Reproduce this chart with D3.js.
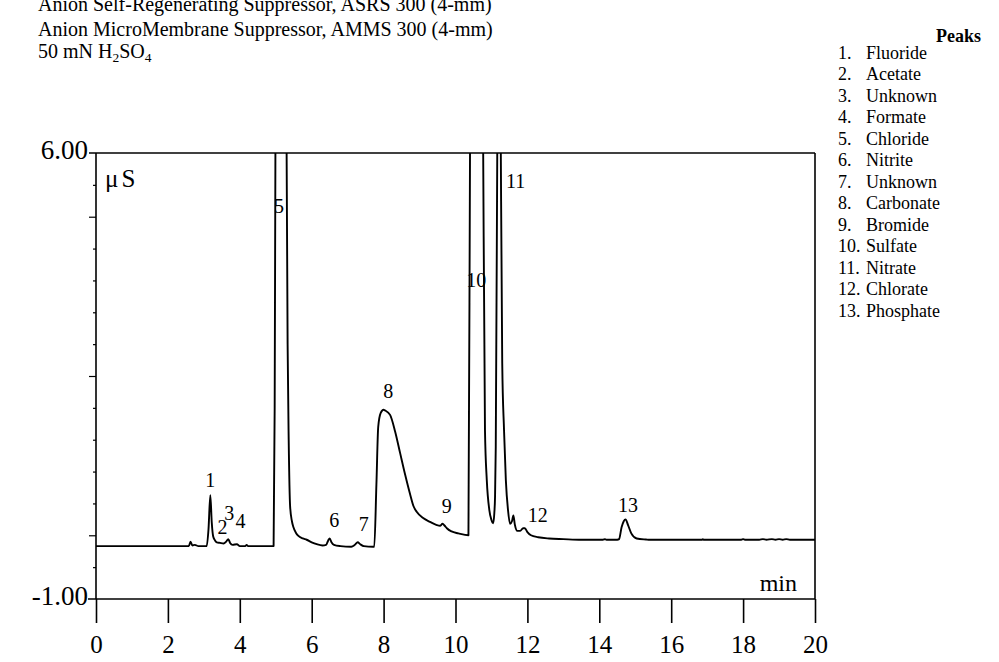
<!DOCTYPE html>
<html>
<head>
<meta charset="utf-8">
<script src="https://cdn.jsdelivr.net/npm/d3@7"></script>
<style>
  body { margin: 0; background: #fff; }
  svg { display: block; }
  text { font-family: "Liberation Serif", "Times New Roman", Times, serif; fill: #000; }
</style>
</head>
<body>
<svg id="chart" width="999" height="662"></svg>
<script>
// Conductivity trace: retention time (min) and signal (µS)
const retentionTime = [
  0.00, 2.50, 2.58, 2.63, 2.68, 2.75, 2.85, 3.08, 3.13, 3.18, 3.22, 3.26, 3.31, 3.36, 3.45, 3.55,
  3.62, 3.68, 3.73, 3.80, 3.92, 4.00, 4.15, 4.19, 4.23, 4.94, 4.97, 5.00, 5.12, 5.29, 5.33, 5.36,
  5.40, 5.45, 5.49, 5.56, 5.63, 5.75, 5.86, 6.00, 6.14, 6.30, 6.40, 6.46, 6.50, 6.55, 6.62, 6.80,
  7.10, 7.20, 7.28, 7.35, 7.45, 7.70, 7.74, 7.80, 7.85, 7.92, 8.00, 8.04, 8.18, 8.32, 8.46, 8.60,
  8.73, 8.83, 8.92, 9.10, 9.29, 9.48, 9.57, 9.64, 9.70, 9.76, 9.89, 10.08, 10.36, 10.41, 10.58, 10.76,
  10.82, 10.87, 10.94, 11.00, 11.05, 11.08, 11.10, 11.12, 11.17, 11.21, 11.25, 11.30, 11.35, 11.40, 11.46, 11.52,
  11.57, 11.61, 11.65, 11.72, 11.80, 11.88, 11.93, 12.00, 12.10, 12.30, 12.60, 13.00, 13.50, 14.10, 14.16, 14.20,
  14.50, 14.55, 14.62, 14.68, 14.73, 14.80, 14.89, 15.04, 15.30, 15.40, 16.85, 16.88, 16.91, 17.95, 18.00, 18.05,
  18.45, 18.55, 18.65, 18.80, 18.90, 19.00, 19.10, 19.20, 19.30, 20.00
];
const signal = [
  -0.17, -0.17, -0.17, -0.10, -0.16, -0.15, -0.17, -0.17, 0.10, 0.63, 0.20, -0.02, -0.08, -0.11, -0.12, -0.13,
  -0.10, -0.06, -0.12, -0.15, -0.14, -0.17, -0.17, -0.15, -0.17, -0.17, 2.00, 8.00, 30.0, 7.50, 3.00, 1.50,
  0.45, 0.22, 0.13, 0.04, -0.01, -0.05, -0.07, -0.11, -0.14, -0.16, -0.15, -0.08, -0.05, -0.11, -0.15, -0.17,
  -0.18, -0.15, -0.11, -0.14, -0.17, -0.18, -0.18, 0.80, 1.70, 1.92, 1.97, 1.96, 1.89, 1.63, 1.29, 0.95,
  0.66, 0.46, 0.37, 0.27, 0.21, 0.16, 0.15, 0.18, 0.15, 0.11, 0.06, 0.03, 0.00, 7.00, 14.0, 7.00,
  1.65, 0.87, 0.40, 0.24, 0.19, 0.35, 0.61, 1.39, 7.00, 10.0, 7.00, 2.70, 1.65, 0.87, 0.40, 0.18,
  0.22, 0.31, 0.17, 0.07, 0.07, 0.11, 0.11, 0.05, 0.00, -0.03, -0.05, -0.06, -0.07, -0.07, -0.06, -0.07,
  -0.07, -0.06, 0.125, 0.22, 0.25, 0.16, 0.03, -0.05, -0.066, -0.07, -0.07, -0.06, -0.07, -0.07, -0.06, -0.07,
  -0.07, -0.06, -0.07, -0.06, -0.07, -0.06, -0.07, -0.06, -0.07, -0.07
];

// Peak numbering and where each number sits (min, µS)
const peakNumbers    = ["1", "2", "3", "4", "5", "6", "7", "8", "9", "10", "11", "12", "13"];
const peakLabelTime  = [3.18, 3.52, 3.71, 4.02, 5.09, 6.63, 7.45, 8.13, 9.76, 10.58, 11.67, 12.29, 14.80];
const peakLabelLevel = [0.76, 0.02, 0.24, 0.11, 5.06, 0.125, 0.07, 2.15, 0.355, 3.90, 5.45, 0.21, 0.37];
const peakNames = ["Fluoride", "Acetate", "Unknown", "Formate", "Chloride", "Nitrite", "Unknown",
                   "Carbonate", "Bromide", "Sulfate", "Nitrate", "Chlorate", "Phosphate"];

// Axis ticks
const xTickValues = [0, 2, 4, 6, 8, 10, 12, 14, 16, 18, 20];
const yMajorTicks = [5, 2.5, 0];
const yMinorTicks = [5.5, 4.5, 4, 3.5, 3, 2, 1.5, 1, 0.5, -0.5];
const yEndLabels  = ["6.00", "-1.00"];
const yEndValues  = [6, -1];

// Conditions header
const headerLines = [
  "Anion Self-Regenerating Suppressor, ASRS 300 (4-mm)",
  "Anion MicroMembrane Suppressor, AMMS 300 (4-mm)"
];

const svg = d3.select("#chart");
const plot = { left: 96, right: 815, top: 153, bottom: 599 };

const x = d3.scaleLinear().domain([0, 20]).range([plot.left, plot.right]);
const y = d3.scaleLinear().domain([-1, 6]).range([plot.bottom, plot.top]);

// Header text
const hdr = svg.append("g").attr("font-size", 20);
headerLines.forEach((t, i) => {
  hdr.append("text").attr("x", 38).attr("y", 11 + i * 25).text(t);
});
const eluent = hdr.append("text").attr("x", 38).attr("y", 58);
eluent.append("tspan").text("50 mN H");
eluent.append("tspan").attr("font-size", 13.5).attr("dy", 4).text("2");
eluent.append("tspan").attr("dy", -4).text("SO");
eluent.append("tspan").attr("font-size", 13.5).attr("dy", 4).text("4");

// Peak legend
const legend = svg.append("g").attr("font-size", 18);
legend.append("text").attr("x", 936).attr("y", 42).attr("font-weight", "bold").text("Peaks");
peakNames.forEach((name, i) => {
  const yy = 58.5 + i * 21.5;
  legend.append("text").attr("x", 838).attr("y", yy).text(peakNumbers[i] + ".");
  legend.append("text").attr("x", 866).attr("y", yy).text(name);
});

// Frame
const frame = svg.append("g").attr("stroke", "#000").attr("stroke-width", 1.6).attr("fill", "none");
frame.append("line").attr("x1", plot.left - 7).attr("x2", plot.right).attr("y1", plot.top).attr("y2", plot.top);
frame.append("line").attr("x1", plot.right).attr("x2", plot.right).attr("y1", plot.top).attr("y2", plot.bottom);
frame.append("line").attr("x1", plot.left).attr("x2", plot.left).attr("y1", plot.top).attr("y2", plot.bottom);

// Bottom (time) axis
const xAxis = svg.append("g")
  .attr("transform", `translate(0,${plot.bottom})`)
  .call(d3.axisBottom(x).tickValues(xTickValues).tickSize(24).tickSizeOuter(0).tickPadding(12).tickFormat(d3.format("d")));
xAxis.select(".domain").remove();
xAxis.selectAll(".tick line").attr("stroke", "#000").attr("stroke-width", 1.6);
xAxis.selectAll(".tick text").attr("font-size", 25).attr("font-family", null);
svg.append("line").attr("x1", plot.left - 8).attr("x2", plot.right)
  .attr("y1", plot.bottom).attr("y2", plot.bottom).attr("stroke", "#000").attr("stroke-width", 1.6);

// Left (signal) axis ticks
const yMajor = svg.append("g").attr("transform", `translate(${plot.left},0)`)
  .call(d3.axisLeft(y).tickValues(yMajorTicks).tickSize(7).tickFormat(""));
yMajor.select(".domain").remove();
yMajor.selectAll(".tick line").attr("stroke", "#000").attr("stroke-width", 1.2);
const yMinor = svg.append("g").attr("transform", `translate(${plot.left},0)`)
  .call(d3.axisLeft(y).tickValues(yMinorTicks).tickSize(3).tickFormat(""));
yMinor.select(".domain").remove();
yMinor.selectAll(".tick line").attr("stroke", "#000").attr("stroke-width", 1.2);

yEndLabels.forEach((t, i) => {
  svg.append("text").attr("x", 88).attr("y", y(yEndValues[i]) + 6)
    .attr("text-anchor", "end").attr("font-size", 27).text(t);
});

// Unit labels
svg.append("text").attr("x", 105).attr("y", 187).attr("font-size", 25).attr("letter-spacing", 3).text("\u03bcS");
svg.append("text").attr("x", plot.right - 18).attr("y", 591).attr("text-anchor", "end").attr("font-size", 24).text("min");

// Chromatogram trace, clipped to the plot frame
svg.append("clipPath").attr("id", "plotClip").append("rect")
  .attr("x", plot.left).attr("y", plot.top).attr("width", plot.right - plot.left).attr("height", plot.bottom - plot.top);

const points = retentionTime.map((t, i) => [t, signal[i]]);
const line = d3.line().x(d => x(d[0])).y(d => y(d[1])).curve(d3.curveMonotoneX);
svg.append("path")
  .datum(points)
  .attr("clip-path", "url(#plotClip)")
  .attr("fill", "none")
  .attr("stroke", "#000")
  .attr("stroke-width", 1.9)
  .attr("stroke-linejoin", "round")
  .attr("d", line);

// Peak numbers
const lbl = svg.append("g").attr("font-size", 20).attr("text-anchor", "middle");
peakNumbers.forEach((n, i) => {
  lbl.append("text").attr("x", x(peakLabelTime[i])).attr("y", y(peakLabelLevel[i])).text(n);
});
</script>
</body>
</html>
